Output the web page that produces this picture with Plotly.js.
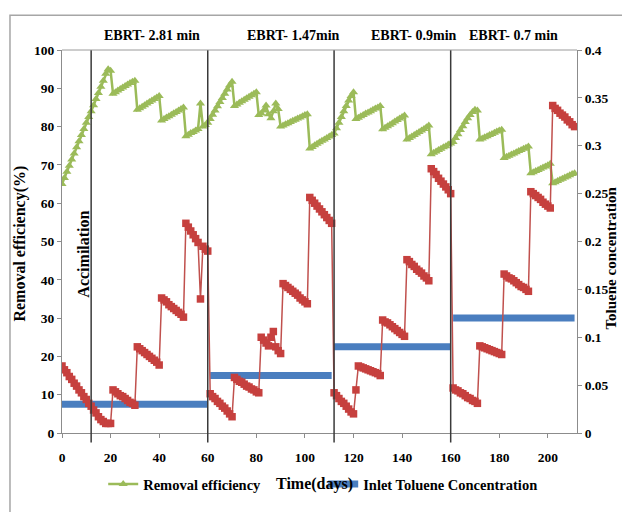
<!DOCTYPE html>
<html>
<head>
<meta charset="utf-8">
<script src="https://cdn.plot.ly/plotly-3.0.1.min.js"></script>
<style>html,body{margin:0;padding:0;background:#fff;}#chart{width:622px;height:512px;}</style>
</head>
<body>
<div id="chart"></div>
<script>
// Removal efficiency (%), one value per day, day 0..211
const removalEff = [
  65.0,66.6,68.2,69.8,71.4,73.0,74.6,76.2,77.8,79.4,81.0,82.5,84.0,85.6,87.2,88.8,90.4,92.0,93.8,95.0,94.6,
  88.6,89.0,89.4,89.8,90.2,90.6,91.0,91.4,91.7,92.0,
  84.4,84.8,85.2,85.6,86.0,86.4,86.8,87.2,87.6,88.0,
  81.6,82.0,82.4,82.7,83.1,83.5,83.8,84.2,84.6,85.0,
  77.5,77.9,78.3,78.6,79.0,79.4,86.0,80.0,80.4,81.0,
  82.0,83.1,84.2,85.3,86.4,87.5,88.6,89.7,90.8,91.7,
  85.4,85.8,86.2,86.6,87.0,87.4,87.8,88.2,88.6,89.0,
  83.0,83.4,84.2,85.5,83.2,82.2,84.0,86.0,84.6,80.0,
  80.3,80.6,80.9,81.2,81.5,81.8,82.1,82.4,82.7,83.0,83.2,
  74.3,74.7,75.1,75.5,75.9,76.3,76.6,77.0,77.4,77.8,78.2,
  79.6,81.0,82.5,84.0,85.4,86.8,88.0,89.0,
  82.0,82.3,82.7,83.0,83.4,83.7,84.0,84.4,84.7,85.0,85.4,
  79.3,79.7,80.1,80.5,80.9,81.3,81.7,82.1,82.5,82.9,
  76.6,77.0,77.4,77.8,78.2,78.6,79.0,79.4,79.8,80.3,
  72.8,73.2,73.5,73.9,74.2,74.6,74.9,75.3,75.6,76.0,
  77.0,78.0,79.1,80.1,81.2,82.2,83.0,83.8,84.4,
  84.2,
  76.6,76.9,77.2,77.5,77.8,78.1,78.4,78.7,79.0,79.2,
  71.8,72.1,72.4,72.7,73.0,73.3,73.6,73.9,74.2,74.5,74.8,
  67.8,68.1,68.4,68.7,69.0,69.3,69.6,69.9,70.3,
  65.2,65.5,65.8,66.1,66.4,66.7,67.0,67.3,67.6,67.8
];

// Outlet toluene concentration, one value per day, day 0..211
const outletConc = [
  0.070,0.066,0.063,0.059,0.056,0.052,0.049,0.045,0.042,0.038,0.035,0.031,0.028,0.024,0.021,0.017,0.014,0.012,0.010,0.010,0.010,
  0.045,0.043,0.041,0.039,0.038,0.036,0.034,0.032,0.031,0.029,
  0.090,0.088,0.086,0.084,0.082,0.080,0.078,0.076,0.074,0.071,
  0.141,0.139,0.137,0.134,0.132,0.130,0.128,0.126,0.124,0.121,
  0.219,0.215,0.211,0.207,0.203,0.199,0.140,0.195,0.192,0.190,
  0.041,0.038,0.036,0.033,0.031,0.028,0.026,0.023,0.020,0.017,
  0.058,0.056,0.054,0.053,0.051,0.049,0.048,0.046,0.045,0.043,0.042,
  0.100,0.097,0.094,0.091,0.100,0.106,0.090,0.086,0.083,
  0.156,0.154,0.152,0.150,0.148,0.146,0.144,0.141,0.139,0.137,0.135,
  0.246,0.243,0.240,0.237,0.234,0.231,0.228,0.225,0.222,0.219,
  0.042,0.039,0.036,0.033,0.031,0.028,0.025,0.022,0.020,
  0.045,0.070,0.069,0.068,0.067,0.066,0.065,0.064,0.063,0.062,0.060,
  0.118,0.116,0.115,0.113,0.111,0.109,0.107,0.105,0.103,0.101,
  0.181,0.179,0.176,0.174,0.171,0.169,0.167,0.164,0.162,0.159,
  0.276,0.273,0.270,0.266,0.263,0.260,0.257,0.254,0.250,
  0.047,0.045,0.044,0.042,0.041,0.039,0.037,0.036,0.034,0.033,0.031,
  0.091,0.090,0.089,0.088,0.087,0.086,0.085,0.084,0.083,0.082,
  0.166,0.164,0.162,0.161,0.159,0.157,0.155,0.153,0.152,0.150,0.148,
  0.252,0.250,0.248,0.246,0.244,0.241,0.239,0.237,0.235,
  0.342,0.339,0.337,0.334,0.332,0.330,0.327,0.325,0.322,0.320
];

// Inlet toluene concentration: constant level for each EBRT phase
const inletStartDay = [0, 61, 112, 161];
const inletEndDay   = [60, 111, 160, 211];
const inletConc     = [0.03, 0.06, 0.09, 0.12];

// Phase boundaries (days) and labels
const phaseDays  = [12, 60, 112, 160];
const ebrtLabels = ["EBRT- 2.81 min", "EBRT- 1.47min", "EBRT- 0.9min", "EBRT- 0.7 min"];
const xTicks = [0, 20, 40, 60, 80, 100, 120, 140, 160, 180, 200];

const days = removalEff.map((_, i) => i);

const inletX = [], inletY = [];
inletStartDay.forEach((s, k) => {
  for (let d = s; d <= inletEndDay[k]; d++) { inletX.push(d); inletY.push(inletConc[k]); }
  inletX.push(null); inletY.push(null);
});

const F = '"Liberation Serif"';
const font = (size, color) => ({family: F, size: size, color: color || '#000', weight: 'bold'});

const traces = [
  {
    x: inletX, y: inletY, yaxis: 'y2', type: 'scatter', mode: 'lines',
    name: 'Inlet Toluene Concentration', legendrank: 2,
    line: {color: '#4a7ebf', width: 7},
    connectgaps: false, hoverinfo: 'skip'
  },
  {
    x: days, y: removalEff, type: 'scatter', mode: 'lines+markers',
    name: 'Removal efficiency', legendrank: 1,
    line: {color: '#9bbb59', width: 2.5},
    marker: {symbol: 'triangle-up', size: 8, color: '#9bbb59'}
  },
  {
    x: days, y: outletConc, yaxis: 'y2', type: 'scatter', mode: 'lines+markers',
    name: 'Outlet Toluene Concentration', showlegend: false,
    line: {color: '#c0504d', width: 1.5},
    marker: {symbol: 'square', size: 7.5, color: '#c6403e'}
  }
];

const shapes = phaseDays.map(d => ({
  type: 'line', xref: 'x', yref: 'paper', x0: d, x1: d, y0: -0.025, y1: 1,
  line: {color: '#3a3a3a', width: 1.5}
}));
shapes.push({type: 'line', xref: 'paper', yref: 'paper', x0: 0, x1: 1, y0: 1, y1: 1,
  line: {color: '#9a9a9a', width: 1}});
shapes.push({type: 'rect', xref: 'paper', yref: 'paper', x0: -0.101, x1: 1.5, y0: -0.5, y1: 1.0907,
  line: {color: '#a6a6a6', width: 1.5}, layer: 'below'});

const ebrtX = [0.175, 0.449, 0.684, 0.876];
const annotations = ebrtLabels.map((t, i) => ({
  text: t, xref: 'paper', yref: 'paper', x: ebrtX[i], y: 1.038,
  xanchor: 'center', yanchor: 'middle', showarrow: false, font: font(14)
}));
annotations.push({text: 'Accimilation', xref: 'paper', yref: 'paper', x: 0.041, y: 0.466,
  textangle: -90, xanchor: 'center', yanchor: 'middle', showarrow: false, font: font(16)});
annotations.push({text: 'Removal efficiency(%)', xref: 'paper', yref: 'paper', x: -0.082, y: 0.494,
  textangle: -90, xanchor: 'center', yanchor: 'middle', showarrow: false, font: font(16)});
annotations.push({text: 'Toluene concentration', xref: 'paper', yref: 'paper', x: 1.066, y: 0.458,
  textangle: -90, xanchor: 'center', yanchor: 'middle', showarrow: false, font: font(15)});
annotations.push({text: 'Time(days)', xref: 'paper', yref: 'paper', x: 0.491, y: -0.1335,
  xanchor: 'center', yanchor: 'middle', showarrow: false, font: font(16)});

const axisCommon = {
  showgrid: false, zeroline: false, showline: true, linecolor: '#8c8c8c', linewidth: 1,
  ticks: 'outside', ticklen: 4, tickcolor: '#8c8c8c', tickfont: font(13.5), fixedrange: true
};

const layout = {
  width: 622, height: 512,
  margin: {l: 62, r: 45, t: 50, b: 65, pad: 0},
  paper_bgcolor: '#ffffff', plot_bgcolor: '#ffffff',
  showlegend: true,
  legend: {orientation: 'h', x: 0.08, xanchor: 'left', y: -0.1335, yanchor: 'middle',
    font: font(14.5), bgcolor: 'rgba(0,0,0,0)', entrywidth: 175, entrywidthmode: 'pixels',
    itemwidth: 30, tracegroupgap: 0},
  xaxis: Object.assign({}, axisCommon, {range: [0, 212], tickvals: xTicks, ticklabelstandoff: 8}),
  yaxis: Object.assign({}, axisCommon, {range: [0, 100], dtick: 10, tick0: 0}),
  yaxis2: Object.assign({}, axisCommon, {range: [0, 0.4], dtick: 0.05, tick0: 0, overlaying: 'y', side: 'right'}),
  shapes: shapes,
  annotations: annotations
};

Plotly.newPlot('chart', traces, layout, {displayModeBar: false, staticPlot: true});
</script>
</body>
</html>
